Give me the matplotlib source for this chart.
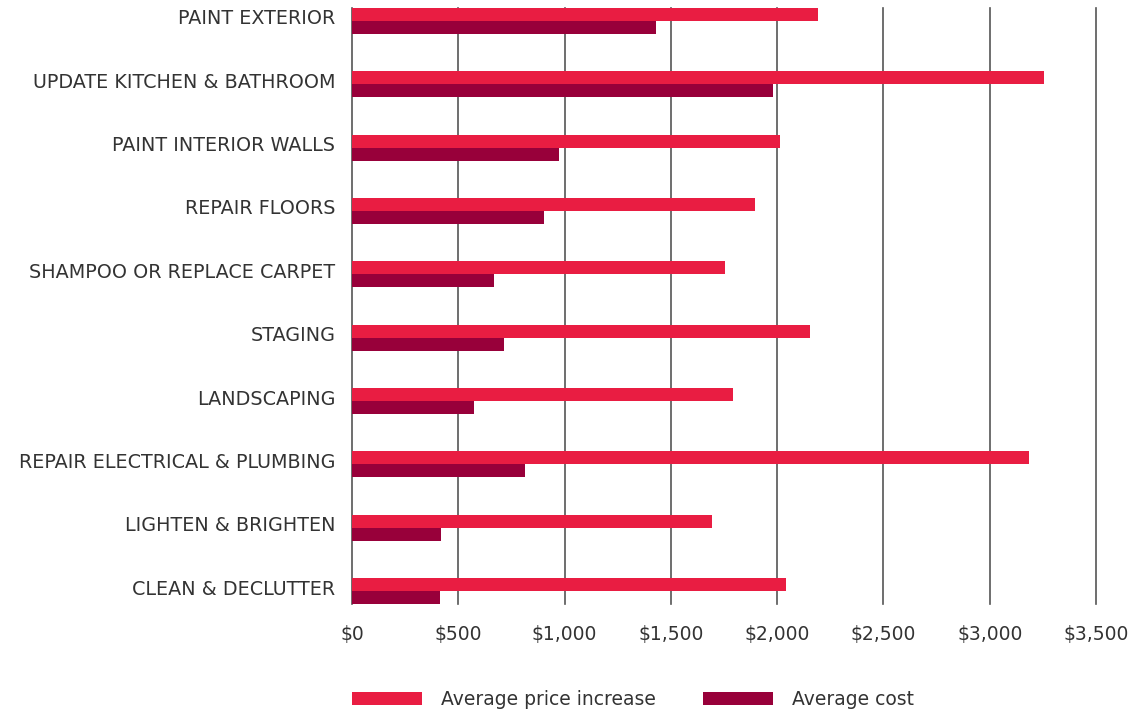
import matplotlib.pyplot as plt
import matplotlib.transforms as mtransforms
import numpy as np

categories = [
    "PAINT EXTERIOR",
    "UPDATE KITCHEN & BATHROOM",
    "PAINT INTERIOR WALLS",
    "REPAIR FLOORS",
    "SHAMPOO OR REPLACE CARPET",
    "STAGING",
    "LANDSCAPING",
    "REPAIR ELECTRICAL & PLUMBING",
    "LIGHTEN & BRIGHTEN",
    "CLEAN & DECLUTTER",
]
price_increase = [2190, 3257, 2014, 1897, 1755, 2155, 1791, 3185, 1692, 2043]
avg_cost = [1430, 1982, 975, 904, 669, 716, 575, 815, 420, 412]
xticks = [0, 500, 1000, 1500, 2000, 2500, 3000, 3500]

PRICE_COLOR = "#E91D42"
COST_COLOR = "#98003A"
TEXT_COLOR = "#333333"
FS = 13.8

plt.rcParams["font.family"] = ["DejaVu Sans"]

fig = plt.figure(figsize=(11.38, 7.1), dpi=100)
ax = fig.add_axes([352 / 1138, 106 / 710, 744 / 1138, 596 / 710])

y = np.arange(len(categories))
h = 0.205
ax.barh(y - h / 2, price_increase, height=h, color=PRICE_COLOR, label="Average price increase")
ax.barh(y + h / 2, avg_cost, height=h, color=COST_COLOR, label="Average cost")

ax.set_xlim(0, 3500)
ax.set_ylim(len(categories) - 1 + h, -h)
ax.set_yticks(y)
ax.set_yticklabels(categories, fontsize=FS, color=TEXT_COLOR)
ax.set_xticks(xticks)
ax.set_xticklabels([f"${v:,}" for v in xticks], fontsize=13.5, color=TEXT_COLOR)
ax.tick_params(axis="both", length=0)
ax.tick_params(axis="y", pad=12)
ax.tick_params(axis="x", pad=15)

# nudge category labels up a little, as in the original
shift = mtransforms.ScaledTranslation(0, 4 / 100, fig.dpi_scale_trans)
for tick in ax.yaxis.get_major_ticks():
    tick.label1.set_transform(tick.label1.get_transform() + shift)

ax.set_axisbelow(True)
ax.grid(axis="x", color="#555555", linewidth=1.2)
for line in ax.get_xgridlines():
    line.set_clip_on(False)
for s in ax.spines.values():
    s.set_visible(False)

fig.legend(loc="lower left", bbox_to_anchor=(352 / 1138, 1 / 710), ncol=2,
           frameon=False, fontsize=13.5, handlelength=3.75, handleheight=0.75,
           handletextpad=1.0, columnspacing=2.5, borderpad=0, borderaxespad=0,
           labelcolor=TEXT_COLOR)

fig.savefig("out.png", dpi=100)
